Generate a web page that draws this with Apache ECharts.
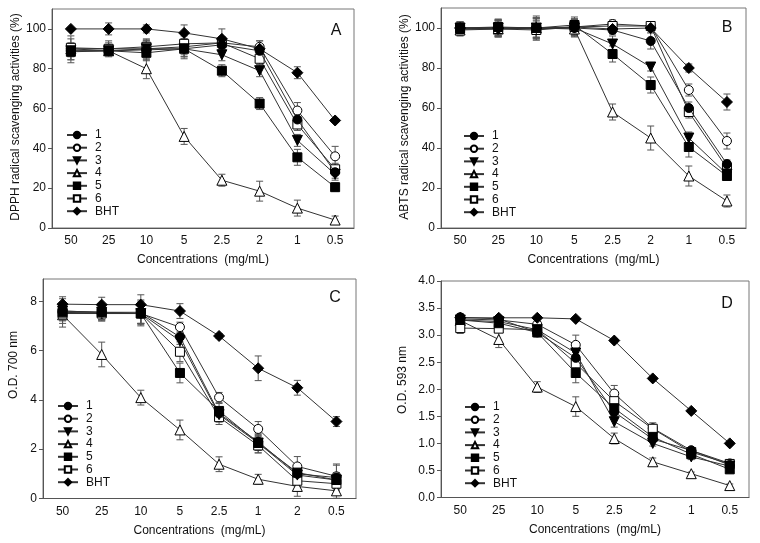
<!DOCTYPE html>
<html>
<head>
<meta charset="utf-8">
<script src="https://cdn.jsdelivr.net/npm/echarts@6/dist/echarts.min.js"></script>
<style>
html,body{margin:0;padding:0;background:#fff;}
#chart{width:760px;height:543px;}
</style>
</head>
<body>
<div id="chart"></div>
<script>
// ---------- categories ----------
const categoriesABD = ['50', '25', '10', '5', '2.5', '2', '1', '0.5'];
const categoriesC = ['50', '25', '10', '5', '2.5', '1', '2', '0.5'];
const seriesNames = ['1', '2', '3', '4', '5', '6', 'BHT'];

// ---------- Panel A: DPPH (%) ----------
const dpph1 = [89, 89, 89.5, 90, 92, 89, 54.5, 28];
const dpph2 = [90, 90, 90, 91, 93, 91, 59, 36];
const dpph3 = [89, 89, 90, 90, 87, 79, 44, 27];
const dpph4 = [90, 89, 80, 46, 24, 18.5, 10, 4];
const dpph5 = [88.5, 89, 88, 90, 79, 62.5, 35.5, 20.5];
const dpph6 = [90.5, 90, 91, 92.5, 93, 85, 52, 29.5];
const dpphBHT = [100, 100, 100, 98, 95, 90, 78, 54];
const dpphErr1 = [6, 2, 5, 5, 3, 3, 3, 3];
const dpphErr2 = [3, 3, 4, 4, 3, 3, 4, 5];
const dpphErr3 = [3, 2, 4, 4, 3, 3, 3, 3];
const dpphErr4 = [2, 2, 5, 4, 3, 5, 4, 2];
const dpphErr5 = [4, 2, 4, 4, 3, 3, 4, 2];
const dpphErr6 = [6, 4, 4, 4, 3, 3, 3, 3];
const dpphErrBHT = [0.5, 3, 2, 4, 5, 4, 3, 1];

// ---------- Panel B: ABTS (%) ----------
const abts1 = [100, 100, 100, 100, 99, 93.5, 60, 32];
const abts2 = [99.5, 100, 99.5, 100.5, 102, 101, 69, 43.5];
const abts3 = [100, 100, 100, 100, 92, 80.5, 45, 27];
const abts4 = [99, 99.5, 100, 99.5, 58, 45, 26, 13.5];
const abts5 = [100, 100.5, 100, 101.5, 87, 71.5, 40.5, 26];
const abts6 = [99.5, 99.5, 99, 100.5, 101, 101, 58, 30];
const abtsBHT = [100, 100, 100, 100.5, 99.5, 100, 80, 63];
const abtsErr1 = [3, 4, 5, 4, 2, 4, 3, 2];
const abtsErr2 = [3, 4, 4, 4, 2, 2, 3, 4];
const abtsErr3 = [3, 4, 5, 4, 4, 2, 3, 2];
const abtsErr4 = [3, 4, 5, 4, 4, 6, 5, 3];
const abtsErr5 = [3, 4, 5, 4, 4, 4, 5, 2];
const abtsErr6 = [3, 4, 5, 4, 2, 2, 3, 3];
const abtsErrBHT = [3, 4, 6, 4, 2, 2, 2, 4];

// ---------- Panel C: O.D. 700 nm ----------
const od700_1 = [7.6, 7.55, 7.55, 6.55, 3.45, 2.3, 1.0, 0.85];
const od700_2 = [7.55, 7.5, 7.5, 6.95, 4.1, 2.82, 1.3, 0.9];
const od700_3 = [7.6, 7.55, 7.5, 6.4, 3.4, 2.25, 0.95, 0.75];
const od700_4 = [7.45, 5.84, 4.09, 2.78, 1.39, 0.78, 0.49, 0.31];
const od700_5 = [7.55, 7.55, 7.5, 5.09, 3.55, 2.25, 1.05, 0.75];
const od700_6 = [7.5, 7.5, 7.5, 5.95, 3.3, 2.15, 0.72, 0.6];
const od700_BHT = [7.88, 7.86, 7.86, 7.6, 6.59, 5.28, 4.49, 3.12];
const od700Err1 = [0.5, 0.3, 0.5, 0.3, 0.2, 0.3, 0.3, 0.5];
const od700Err2 = [0.3, 0.3, 0.4, 0.2, 0.2, 0.3, 0.4, 0.5];
const od700Err3 = [0.3, 0.3, 0.5, 0.3, 0.3, 0.4, 0.3, 0.3];
const od700Err4 = [0.5, 0.5, 0.3, 0.4, 0.3, 0.2, 0.4, 0.3];
const od700Err5 = [0.3, 0.3, 0.4, 0.4, 0.3, 0.3, 0.3, 0.3];
const od700Err6 = [0.3, 0.3, 0.4, 0.4, 0.3, 0.3, 0.4, 0.3];
const od700ErrBHT = [0.3, 0.3, 0.4, 0.3, 0.1, 0.5, 0.3, 0.2];

// ---------- Panel D: O.D. 593 nm ----------
const od593_1 = [3.33, 3.3, 3.05, 2.58, 1.58, 1.08, 0.87, 0.6];
const od593_2 = [3.3, 3.28, 3.2, 2.82, 1.92, 1.28, 0.87, 0.63];
const od593_3 = [3.28, 3.25, 3.1, 2.67, 1.4, 1.0, 0.75, 0.58];
const od593_4 = [3.27, 2.92, 2.04, 1.68, 1.09, 0.66, 0.44, 0.22];
const od593_5 = [3.28, 3.22, 3.05, 2.3, 1.65, 1.12, 0.8, 0.52];
const od593_6 = [3.13, 3.12, 3.1, 2.48, 1.78, 1.27, 0.84, 0.62];
const od593_BHT = [3.32, 3.32, 3.32, 3.3, 2.9, 2.2, 1.6, 1.0];
const od593Err1 = [0.05, 0.05, 0.08, 0.1, 0.1, 0.06, 0.05, 0.03];
const od593Err2 = [0.1, 0.05, 0.08, 0.18, 0.15, 0.1, 0.05, 0.03];
const od593Err3 = [0.05, 0.05, 0.08, 0.1, 0.1, 0.05, 0.05, 0.03];
const od593Err4 = [0.05, 0.15, 0.1, 0.18, 0.1, 0.07, 0.03, 0.03];
const od593Err5 = [0.05, 0.05, 0.08, 0.18, 0.1, 0.06, 0.05, 0.03];
const od593Err6 = [0.1, 0.05, 0.08, 0.1, 0.1, 0.06, 0.05, 0.03];
const od593ErrBHT = [0.03, 0.03, 0.03, 0.03, 0.03, 0.03, 0.03, 0.03];

// ---------- labels ----------
const yTitles = ['DPPH radical scavenging activities (%)', 'ABTS radical scavenging activities (%)', 'O.D. 700 nm', 'O.D. 593 nm'];
const xTitle = 'Concentrations  (mg/mL)';
const panelLetters = ['A', 'B', 'C', 'D'];

// ---------- assemble ----------
const panels = [
  { cats: categoriesABD, vals: [dpph1, dpph2, dpph3, dpph4, dpph5, dpph6, dpphBHT],
    errs: [dpphErr1, dpphErr2, dpphErr3, dpphErr4, dpphErr5, dpphErr6, dpphErrBHT] },
  { cats: categoriesABD, vals: [abts1, abts2, abts3, abts4, abts5, abts6, abtsBHT],
    errs: [abtsErr1, abtsErr2, abtsErr3, abtsErr4, abtsErr5, abtsErr6, abtsErrBHT] },
  { cats: categoriesC, vals: [od700_1, od700_2, od700_3, od700_4, od700_5, od700_6, od700_BHT],
    errs: [od700Err1, od700Err2, od700Err3, od700Err4, od700Err5, od700Err6, od700ErrBHT] },
  { cats: categoriesABD, vals: [od593_1, od593_2, od593_3, od593_4, od593_5, od593_6, od593_BHT],
    errs: [od593Err1, od593Err2, od593Err3, od593Err4, od593Err5, od593Err6, od593ErrBHT] }
];

// layout / style (not data)
const FONT = 'Liberation Sans, Arial, Helvetica, sans-serif';
const gridBoxes = [
  { left: 52, top: 9, width: 302, height: 219 },
  { left: 441, top: 8, width: 305, height: 220 },
  { left: 43, top: 279, width: 313, height: 219.5 },
  { left: 441, top: 281, width: 308, height: 216.5 }
];
const yScales = [
  { max: 110, interval: 20, ticks: [0, 20, 40, 60, 80, 100], dec: 0 },
  { max: 110, interval: 20, ticks: [0, 20, 40, 60, 80, 100], dec: 0 },
  { max: 8.9, interval: 2, ticks: [0, 2, 4, 6, 8], dec: 0 },
  { max: 4, interval: 0.5, ticks: [0, 0.5, 1, 1.5, 2, 2.5, 3, 3.5, 4], dec: 1 }
];
const symbols = ['circle', 'circle', 'triangle', 'triangle', 'rect', 'rect', 'diamond'];
const symbolSizes = [9, 9, 10, 10, 9, 9, 11];
const symbolRot = [0, 0, 180, 0, 0, 0, 0];
const fills = ['#000', '#fff', '#000', '#fff', '#000', '#fff', '#000'];
const legendPos = [[66, 129], [463, 130], [57, 400], [464, 401]];
const yTitlePos = [[16, 117], [405, 117], [14, 365], [403, 380]];
const letterPos = [[336, 31], [727, 27.5], [335, 297.5], [727, 304]];

function renderErr(params, api) {
  const x = api.value(0), y = api.value(1), e = api.value(2);
  const p1 = api.coord([x, y + e]);
  const p2 = api.coord([x, y - e]);
  const hw = 3.5;
  const st = { stroke: '#555', lineWidth: 1 };
  return {
    type: 'group',
    children: [
      { type: 'line', shape: { x1: p1[0], y1: p1[1], x2: p2[0], y2: p2[1] }, style: st },
      { type: 'line', shape: { x1: p1[0] - hw, y1: p1[1], x2: p1[0] + hw, y2: p1[1] }, style: st },
      { type: 'line', shape: { x1: p2[0] - hw, y1: p2[1], x2: p2[0] + hw, y2: p2[1] }, style: st }
    ]
  };
}

const grid = [], xAxis = [], yAxis = [], series = [], legend = [], graphic = [];
panels.forEach((p, k) => {
  grid.push(Object.assign({ show: true, borderColor: '#777', borderWidth: 1, containLabel: false }, gridBoxes[k]));
  xAxis.push({
    type: 'category', gridIndex: k, data: p.cats, boundaryGap: true,
    axisLine: { lineStyle: { color: '#555', width: 1 } },
    axisTick: { alignWithLabel: true, length: 4, inside: false, lineStyle: { color: '#555' } },
    axisLabel: { margin: 7, fontSize: 12, color: '#111', fontFamily: FONT },
    name: xTitle, nameLocation: 'middle', nameGap: 26,
    nameTextStyle: { fontSize: 12, color: '#111', fontFamily: FONT }
  });
  const ys = yScales[k];
  yAxis.push({
    type: 'value', gridIndex: k, min: 0, max: ys.max, interval: ys.interval,
    splitLine: { show: false },
    axisLine: { show: true, lineStyle: { color: '#555', width: 1 } },
    axisTick: { show: true, length: 4, lineStyle: { color: '#555' }, customValues: ys.ticks },
    axisLabel: { margin: 6, fontSize: 12, color: '#111', fontFamily: FONT, customValues: ys.ticks,
      formatter: v => Number(v).toFixed(ys.dec) }
  });
  // error bars
  p.vals.forEach((vals, s) => {
    series.push({
      type: 'custom', name: 'err', xAxisIndex: k, yAxisIndex: k, renderItem: renderErr,
      data: vals.map((v, i) => [i, v, p.errs[s][i]]), encode: { x: 0, y: 1 }, z: 1, silent: true
    });
  });
  p.vals.forEach((vals, s) => {
    series.push({
      type: 'line', name: seriesNames[s], xAxisIndex: k, yAxisIndex: k, data: vals,
      symbol: symbols[s], symbolSize: symbolSizes[s], symbolRotate: symbolRot[s],
      lineStyle: { color: '#333', width: 1 },
      itemStyle: { color: fills[s], borderColor: '#000', borderWidth: 1 },
      z: 3 + (fills[s] === '#000' ? 1 : 0), showAllSymbol: true
    });
  });
  legend.push({
    orient: 'vertical', left: legendPos[k][0], top: legendPos[k][1],
    itemWidth: 20, itemHeight: 8, itemGap: 0.7, selectedMode: false,
    data: seriesNames, padding: 0,
    textStyle: { fontSize: 12, color: '#111', fontFamily: FONT, padding: [0, 0, 0, 3] }
  });
  graphic.push({
    type: 'text', x: yTitlePos[k][0], y: yTitlePos[k][1], rotation: Math.PI / 2,
    style: { text: yTitles[k], fontSize: 12, fill: '#111', fontFamily: FONT, align: 'center', verticalAlign: 'middle' }
  });
  graphic.push({
    type: 'text', x: letterPos[k][0], y: letterPos[k][1],
    style: { text: panelLetters[k], fontSize: 16, fill: '#111', fontFamily: FONT, align: 'center', verticalAlign: 'middle' }
  });
});

const chart = echarts.init(document.getElementById('chart'), null, { renderer: 'canvas' });
chart.setOption({
  animation: false,
  backgroundColor: '#fff',
  grid, xAxis, yAxis, series, legend, graphic
});
</script>
</body>
</html>
